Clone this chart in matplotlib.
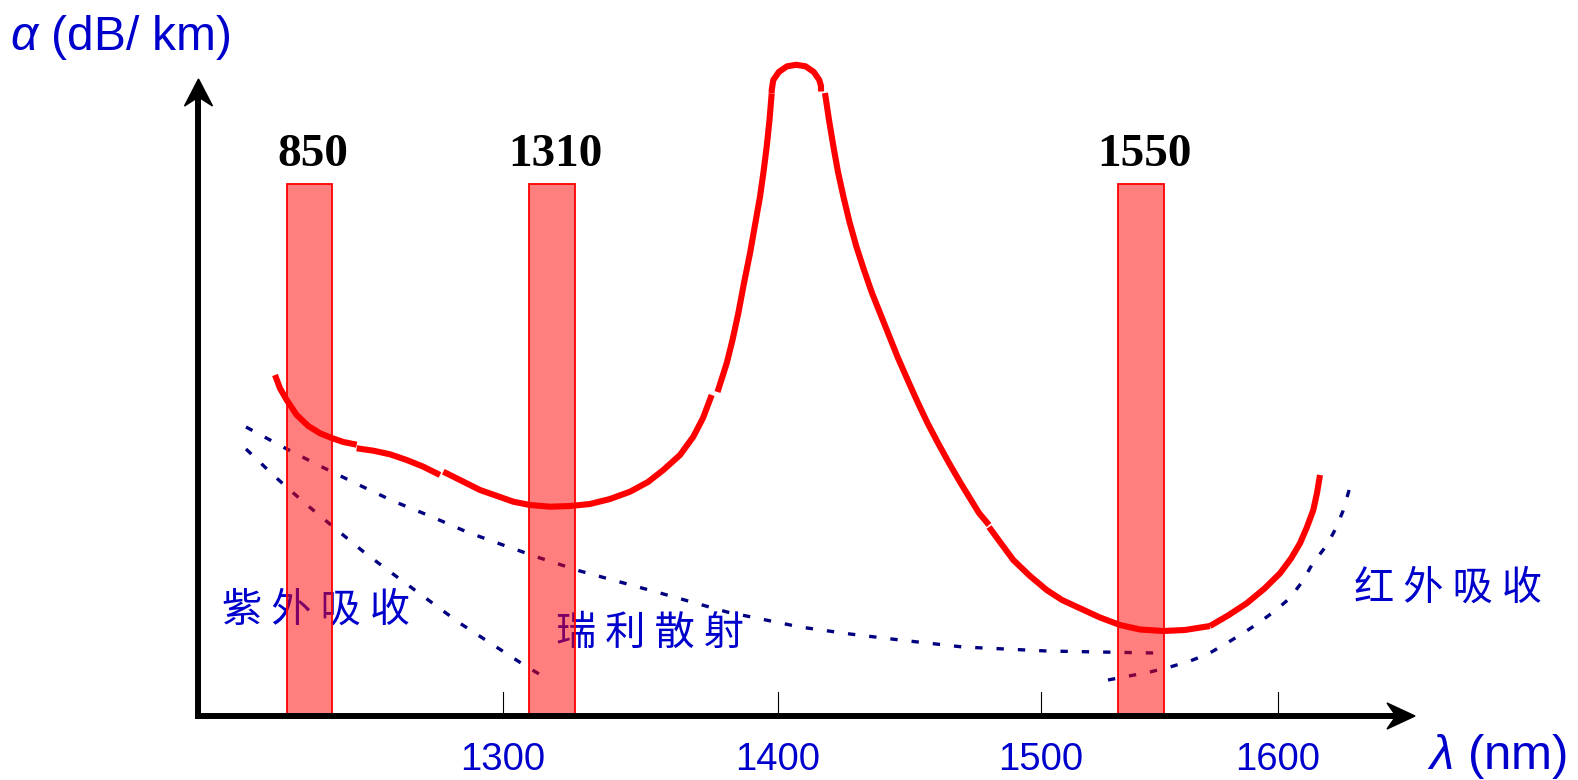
import matplotlib
matplotlib.use('Agg')
import matplotlib.pyplot as plt
from matplotlib.patches import Polygon

plt.rcParams['font.family'] = ['Liberation Sans', 'Noto Sans CJK SC', 'DejaVu Sans']
plt.rcParams['mathtext.fontset'] = 'custom'
plt.rcParams['mathtext.it'] = 'Liberation Sans:italic'
plt.rcParams['mathtext.rm'] = 'Liberation Sans'

# ---- data (schematic diagram coordinates, y grows downward) ----
tick_positions = [503, 778, 1041, 1278]
tick_labels = ['1300', '1400', '1500', '1600']

window_labels = ['850', '1310', '1550']
window_centers = [309.5, 552, 1141]
window_top = 184
window_bottom = 716
window_width = 45.5

# total fiber loss curve, drawn as separate pieces
loss_x = [
    [275, 280, 286.7, 296.7, 308.3, 320, 331.7, 343.3, 356.7],
    [356.7, 373.3, 390, 406.7, 423.3, 440],
    [443.3, 460, 480, 500, 513.3, 530, 550, 570, 590, 610, 630, 648, 663.3, 680, 693.3, 703, 711.7],
    [717.5, 726.7, 732.5, 738.3, 744, 750, 755, 760, 763.5, 766.7, 769.5, 771.7],
    [771.6, 771.8, 773.3, 778.8, 787, 796.3, 805.6, 813.8, 819.3, 821, 821],
    [825, 829, 833.5, 838, 843.5, 849.5, 856.5, 864, 872, 880, 888, 898, 909, 918, 927.5, 938, 949, 960, 971, 979, 989],
    [989, 1000, 1013.3, 1030, 1046.7, 1062, 1080, 1100, 1120, 1140, 1163.3, 1185, 1210],
    [1210, 1228, 1246.7, 1264, 1280, 1291, 1300, 1307, 1313.3, 1317, 1320],
]
loss_y = [
    [375, 388.3, 400, 415, 426, 433.3, 438, 442, 444.7],
    [448.3, 450.7, 454.3, 460, 466.7, 475],
    [471.7, 480, 490, 497, 501.7, 505, 506.7, 506, 504, 499, 491.7, 482, 470, 455, 436.7, 418, 395],
    [392, 363.3, 340, 313.3, 283, 253.3, 225, 196.7, 172, 146.7, 120, 93.3],
    [93, 89.5, 80, 72, 66.3, 64.8, 66.3, 72, 80, 86, 91.5],
    [93, 120, 147, 172, 197, 222, 247, 270, 293, 313, 333, 358, 383, 403, 423, 443, 463, 482, 500, 513, 525],
    [527, 542, 560, 576, 590, 600, 608.3, 617.5, 625, 629.5, 631, 630, 626],
    [626, 615.5, 603.3, 589, 573.3, 558.5, 543.3, 527, 510, 493, 475],
]

# ultraviolet absorption
uv_x = [246, 275, 305, 335, 365, 396.7, 428.3, 460, 493.3, 526.7, 546]
uv_y = [449, 476.7, 503.3, 528.3, 553, 576.7, 600, 623.3, 645, 666.7, 678]

# Rayleigh scattering
rayleigh_x = [246, 283, 318, 357, 393, 430, 467, 503, 540, 580, 620, 660, 727, 800, 850, 900, 963, 1047, 1100, 1155]
rayleigh_y = [427, 447, 465, 484, 501, 516, 532, 545, 558, 571, 582, 593, 612, 627, 634, 640, 647, 651, 652, 653]

# infrared absorption
ir_x = [1108, 1150, 1170, 1190, 1208, 1227, 1245, 1260, 1276, 1290, 1302, 1313, 1327, 1336, 1343, 1350]
ir_y = [680, 672, 667, 661, 654, 643, 632, 622, 610, 598, 582, 563, 545, 528, 511, 487]

region_labels = ['紫 外 吸 收', '瑞 利 散 射', '红 外 吸 收']
region_pos = [(222, 610), (556, 633), (1354, 588)]

# ---- drawing ----
W, H = 1578, 780
fig = plt.figure(figsize=(W / 100, H / 100), dpi=100)
ax = fig.add_axes([0, 0, 1, 1])
ax.set_xlim(0, W)
ax.set_ylim(H, 0)
ax.axis('off')

navy = '#000080'
blue = '#0000CC'
dot_kw = dict(color=navy, lw=2.4, dashes=(2.2, 4.2), dash_capstyle='butt', zorder=1)
ax.plot(uv_x, uv_y, **dot_kw)
ax.plot(rayleigh_x, rayleigh_y, **dot_kw)
ax.plot(ir_x, ir_y, **dot_kw)

for lab, (x, y) in zip(region_labels, region_pos):
    ax.text(x, y, lab, color=blue, fontsize=29, ha='left', va='center',
            family=['Noto Sans CJK SC', 'DejaVu Sans'], zorder=1.5)

ax.bar(window_centers, [window_bottom - window_top] * 3, bottom=window_top,
       width=window_width, facecolor=(1, 0, 0, 0.5), edgecolor='red',
       linewidth=1.3, zorder=2)

for lab, xc in zip(window_labels, window_centers):
    ax.text(xc + 3, 165.5, lab, fontsize=34, fontweight='bold', ha='center',
            va='baseline', family=['Liberation Serif'], color='black', zorder=6)

for xs, ys in zip(loss_x, loss_y):
    ax.plot(xs, ys, color='red', lw=4.4, solid_capstyle='butt',
            solid_joinstyle='round', zorder=3)

# axes with arrows
ax.plot([198, 198], [719, 98], color='black', lw=4.3, solid_capstyle='butt', zorder=4)
ax.plot([195, 1398], [716, 716], color='black', lw=4.3, solid_capstyle='butt', zorder=4)
ax.add_patch(Polygon([(198.5, 79), (184.5, 106), (198.5, 97), (212.5, 106)],
                     closed=True, color='black', zorder=4))
ax.add_patch(Polygon([(1415, 716), (1387, 703), (1396, 716), (1387, 729)],
                     closed=True, color='black', zorder=4))

for xt, lab in zip(tick_positions, tick_labels):
    ax.plot([xt, xt], [692, 716], color='black', lw=0.8, zorder=4)
    ax.text(xt, 770, lab, fontsize=27.5, color=blue, ha='center', va='baseline', zorder=5)

ax.text(1427, 769, r'$\lambda$ (nm)', fontsize=35.5, color=blue, ha='left', va='baseline')
ax.text(10, 50, r'$\alpha$ (dB/ km)', fontsize=34.5, color=blue, ha='left', va='baseline')

fig.savefig('out.png', dpi=100)
